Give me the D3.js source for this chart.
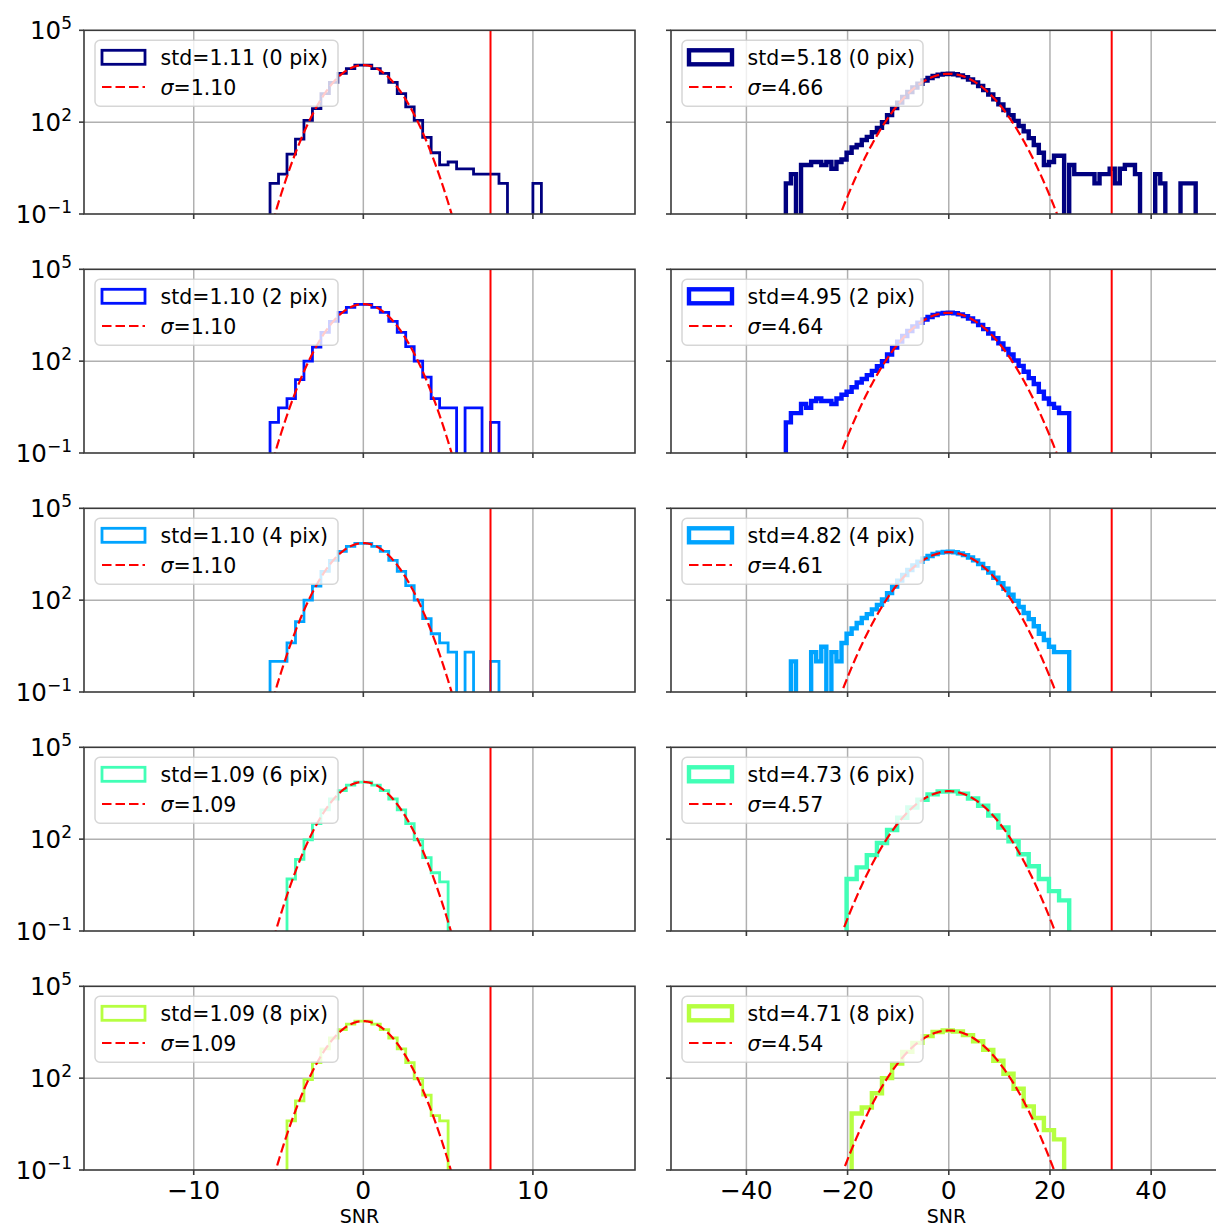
<!DOCTYPE html>
<html>
<head>
<meta charset="utf-8">
<script src="https://cdn.jsdelivr.net/npm/d3@7"></script>
<style>
body { margin: 0; background: #fff; }
text { font-family: "DejaVu Sans", sans-serif; }
</style>
</head>
<body>
<div id="chart"></div>
<script>
// rows: shift in pixels
var pixLabels = ["0 pix", "2 pix", "4 pix", "6 pix", "8 pix"];
var rowColors = ["#000080", "#0012ff", "#00a4ff", "#41ffb6", "#b6ff41"];

// left column (narrow SNR)
var leftStd = ["1.11", "1.10", "1.10", "1.09", "1.09"];
var leftSigma = [1.10, 1.10, 1.10, 1.09, 1.09];
var leftPeak = [7300, 7300, 7300, 7400, 7300];
var leftBinStart = [-5.5, -5.5, -5.5, -4.5, -4.5];
var leftBinWidth = [0.5, 0.5, 0.5, 0.5, 0.5];
var leftCounts = [
  [1, 2, 9, 28, 115, 275, 850, 2000, 3900, 5600, 7250, 7250, 5600, 3900, 2000, 850, 315, 115, 32, 10, 4, 5, 3, 3, 2, 2, 2, 1, 0, 0, 0, 1],
  [1, 3, 6, 25, 100, 290, 870, 2000, 3900, 5700, 7200, 7200, 5700, 3900, 2000, 870, 300, 100, 30, 6, 3, 3, 0, 3, 3, 0, 1],
  [1, 1, 4, 20, 100, 290, 870, 2000, 3900, 5700, 7200, 7200, 5700, 3900, 2000, 870, 300, 100, 25, 8, 4, 2, 0, 2, 0, 0, 1],
  [5, 22, 95, 320, 900, 2050, 3850, 5800, 7300, 7300, 5800, 3850, 2050, 900, 320, 95, 25, 8, 4],
  [4, 18, 90, 320, 900, 2050, 3850, 5800, 7300, 7300, 5800, 3850, 2050, 900, 320, 95, 28, 6, 4]
];

// right column (wide SNR)
var rightStd = ["5.18", "4.95", "4.82", "4.73", "4.71"];
var rightSigma = [4.66, 4.64, 4.61, 4.57, 4.54];
var rightPeak = [3800, 3800, 3700, 3700, 3600];
var rightBinStart = [-32.2, -32.2, -32.2, -20.2, -19.2];
var rightBinWidth = [1, 1, 1, 2, 2];
var rightCounts = [
  [1, 2, 0, 4, 4, 5, 5, 4, 5, 3, 5, 6, 10, 15, 18, 26, 33, 47, 65, 100, 170, 290, 435, 664, 970, 1351, 1798, 2284, 2772, 3213, 3555, 3757,
   3792, 3655, 3364, 2958, 2482, 1990, 1523, 1113, 800, 560, 380, 250, 170, 110, 75, 50, 30, 18, 10, 4, 5, 8, 8, 0, 4, 2, 2, 2, 2, 1, 2, 2, 3, 1,
   3, 4, 4, 2, 0, 0, 0, 2, 1, 0, 0, 0, 1, 1, 1],
  [1, 2, 2, 4, 3, 5, 6, 5, 5, 4, 6, 8, 10, 14, 20, 26, 35, 48, 68, 100, 165, 280, 435, 664, 970, 1351, 1798, 2284, 2772, 3213, 3555, 3757,
   3792, 3655, 3364, 2958, 2482, 1990, 1523, 1113, 800, 560, 380, 250, 165, 105, 70, 45, 28, 18, 10, 6, 4, 3, 2, 2],
  [0, 1, 0, 0, 0, 2, 1, 3, 0, 2, 1, 4, 8, 12, 18, 26, 35, 50, 70, 105, 170, 280, 435, 664, 970, 1351, 1798, 2284, 2772, 3213, 3555, 3757,
   3792, 3655, 3364, 2958, 2482, 1990, 1523, 1113, 790, 540, 360, 235, 150, 95, 60, 38, 24, 14, 8, 5, 3, 2, 2, 2],
  [5, 12, 30, 75, 200, 500, 1080, 1940, 2900, 3580, 3640, 3070, 2130, 1230, 590, 240, 85, 32, 13, 5, 2, 1],
  [7, 11, 32, 100, 300, 720, 1420, 2350, 3200, 3600, 3330, 2540, 1600, 840, 370, 140, 45, 12, 5, 2, 1]
];

var thresholds = [7.5, 32.2];
var xTicksLeft = [-10, 0, 10];
var xTicksRight = [-40, -20, 0, 20, 40];
var yTicks = [0.1, 100, 100000];
var yTickLabels = [["10", "\u22121"], ["10", "2"], ["10", "5"]];

var width = 1216, height = 1228;
var rowTop0 = 30.3, rowPitch = 239, axH = 183.7;
var axisColor = "#3a3a3a";

var columns = [
  {x0: 84, x1: 635, domain: [-16.47, 16.02], ticks: xTicksLeft, lw: 2.8,
   std: leftStd, sigma: leftSigma, peak: leftPeak, start: leftBinStart, bw: leftBinWidth, counts: leftCounts, legendW: 243},
  {x0: 671, x1: 1222, domain: [-54.9, 54.0], ticks: xTicksRight, lw: 4.4,
   std: rightStd, sigma: rightSigma, peak: rightPeak, start: rightBinStart, bw: rightBinWidth, counts: rightCounts, legendW: 241}
];

var svg = d3.select("#chart")
    .append("svg")
    .attr("width", width)
    .attr("height", height)
    .style("display", "block");

svg.append("rect").attr("width", width).attr("height", height).attr("fill", "#fff");

var y = d3.scaleLog().domain([0.1, 1e5]).range([axH, 0]);

columns.forEach(function(col, c) {
    var x = d3.scaleLinear().domain(col.domain).range([0, col.x1 - col.x0]);
    var w = col.x1 - col.x0;

    for (var r = 0; r < 5; r++) {
        var top = rowTop0 + r * rowPitch;
        var g = svg.append("g").attr("transform", "translate(" + col.x0 + "," + top + ")");
        var clipId = "clip-" + c + "-" + r;
        g.append("clipPath").attr("id", clipId)
            .append("rect").attr("width", w).attr("height", axH);

        // grid
        g.selectAll("line.xgrid")
            .data(col.ticks)
            .enter().append("line")
            .attr("x1", function(d) { return x(d); })
            .attr("x2", function(d) { return x(d); })
            .attr("y1", 0).attr("y2", axH)
            .attr("stroke", "#b0b0b0").attr("stroke-width", 1.5);
        g.append("line")
            .attr("x1", 0).attr("x2", w)
            .attr("y1", y(100)).attr("y2", y(100))
            .attr("stroke", "#b0b0b0").attr("stroke-width", 1.5);

        var plot = g.append("g").attr("clip-path", "url(#" + clipId + ")");

        // histogram outline (step)
        var counts = col.counts[r];
        var pts = [[col.start[r], 1e-3]];
        counts.forEach(function(v, i) {
            var e0 = col.start[r] + i * col.bw[r];
            var e1 = e0 + col.bw[r];
            var vv = v > 0 ? v : 1e-3;
            pts.push([e0, vv]);
            pts.push([e1, vv]);
        });
        pts.push([col.start[r] + counts.length * col.bw[r], 1e-3]);
        plot.append("path")
            .attr("d", d3.line().x(function(d) { return x(d[0]); }).y(function(d) { return y(d[1]); })(pts))
            .attr("fill", "none")
            .attr("stroke", rowColors[r])
            .attr("stroke-width", col.lw)
            .attr("stroke-linejoin", "miter");

        // gaussian fit from the legend sigma
        var s = col.sigma[r], A = col.peak[r];
        var lim = s * Math.sqrt(2 * Math.log(A / 0.02));
        var gx = d3.range(-lim, lim + 1e-9, lim / 300);
        plot.append("path")
            .attr("d", d3.line()
                .x(function(d) { return x(d); })
                .y(function(d) { return y(A * Math.exp(-d * d / (2 * s * s))); })(gx))
            .attr("fill", "none")
            .attr("stroke", "red")
            .attr("stroke-width", 2.2)
            .attr("stroke-dasharray", "9.5,4");

        // threshold line
        plot.append("line")
            .attr("x1", x(thresholds[c])).attr("x2", x(thresholds[c]))
            .attr("y1", 0).attr("y2", axH)
            .attr("stroke", "red").attr("stroke-width", 2);

        // spines
        g.append("rect")
            .attr("width", w).attr("height", axH)
            .attr("fill", "none").attr("stroke", axisColor).attr("stroke-width", 1.6);

        // x ticks
        g.selectAll("line.xtick")
            .data(col.ticks)
            .enter().append("line")
            .attr("x1", function(d) { return x(d); })
            .attr("x2", function(d) { return x(d); })
            .attr("y1", axH).attr("y2", axH + 5)
            .attr("stroke", axisColor).attr("stroke-width", 1.6);
        if (r === 4) {
            g.selectAll("text.xlab")
                .data(col.ticks)
                .enter().append("text")
                .attr("x", function(d) { return x(d); })
                .attr("y", axH + 29)
                .attr("text-anchor", "middle")
                .attr("font-size", 25)
                .attr("fill", "#000")
                .text(function(d) { return d < 0 ? "\u2212" + Math.abs(d) : String(d); });
            g.append("text")
                .attr("x", w / 2)
                .attr("y", axH + 53.3)
                .attr("text-anchor", "middle")
                .attr("font-size", 19)
                .attr("fill", "#000")
                .text("SNR");
        }

        // y ticks
        g.selectAll("line.ytick")
            .data(yTicks)
            .enter().append("line")
            .attr("x1", -5).attr("x2", 0)
            .attr("y1", function(d) { return y(d); })
            .attr("y2", function(d) { return y(d); })
            .attr("stroke", axisColor).attr("stroke-width", 1.6);
        if (c === 0) {
            yTicks.forEach(function(t, k) {
                var lab = g.append("text")
                    .attr("x", -12)
                    .attr("y", y(t) + 8.6)
                    .attr("text-anchor", "end")
                    .attr("font-size", 24.5)
                    .attr("fill", "#000");
                lab.append("tspan").text(yTickLabels[k][0]);
                lab.append("tspan").attr("dy", -10).attr("font-size", 17).text(yTickLabels[k][1]);
            });
        }

        // legend
        var lg = g.append("g").attr("transform", "translate(11,10)");
        lg.append("rect")
            .attr("width", col.legendW).attr("height", 66)
            .attr("rx", 5).attr("ry", 5)
            .attr("fill", "#fff").attr("fill-opacity", 0.8)
            .attr("stroke", "#cccccc").attr("stroke-opacity", 0.8).attr("stroke-width", 1.5);
        lg.append("rect")
            .attr("x", 7).attr("y", 10).attr("width", 43).attr("height", 14)
            .attr("fill", "none").attr("stroke", rowColors[r]).attr("stroke-width", col.lw);
        lg.append("text")
            .attr("x", 65.5).attr("y", 24.7)
            .attr("font-size", 20.5).attr("fill", "#000")
            .text("std=" + col.std[r] + " (" + pixLabels[r] + ")");
        lg.append("line")
            .attr("x1", 7).attr("x2", 50).attr("y1", 46.7).attr("y2", 46.7)
            .attr("stroke", "red").attr("stroke-width", 2.2).attr("stroke-dasharray", "9.5,4");
        var st = lg.append("text")
            .attr("x", 65.5).attr("y", 54.7)
            .attr("font-size", 20.5).attr("fill", "#000");
        st.append("tspan").attr("font-style", "italic").text("\u03c3");
        st.append("tspan").text("=" + col.sigma[r].toFixed(2));
    }
});
</script>
</body>
</html>
